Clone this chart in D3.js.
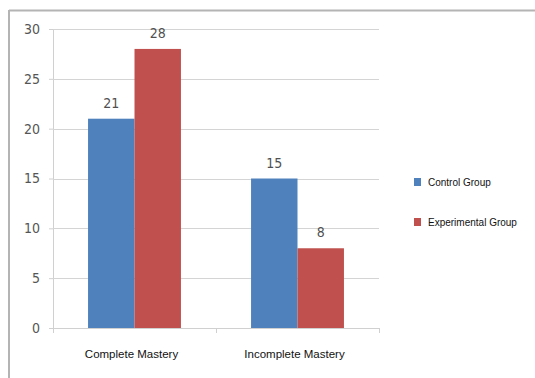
<!DOCTYPE html>
<html>
<head>
<meta charset="utf-8">
<script src="https://cdn.jsdelivr.net/npm/d3@7"></script>
<style>
    body{margin:0;background:#fff;}
    svg{display:block;}
</style>
</head>
<body>
<div id="chart"></div>
<script>
const categories = ["Complete Mastery", "Incomplete Mastery"];
const seriesNames = ["Control Group", "Experimental Group"];
const controlValues = [21, 15];
const experimentalValues = [28, 8];
const yTicks = [0, 5, 10, 15, 20, 25, 30];

const colors = ["#4F81BD", "#C0504D"];

const width = 535;
const height = 378;

const margin = {
    top:29,
    left:53,
    right:156,
    bottom:50
};

const svg = d3.select("#chart")
    .append("svg")
    .attr("width",width)
    .attr("height",height);

// outer frame (only top and left are visible)
svg.append("line")
    .attr("x1",9).attr("x2",width)
    .attr("y1",10.5).attr("y2",10.5)
    .attr("stroke","#b4b4b4").attr("stroke-width",2);
svg.append("line")
    .attr("x1",9).attr("x2",9)
    .attr("y1",10).attr("y2",height)
    .attr("stroke","#b4b4b4").attr("stroke-width",2);

const x0 = d3.scaleBand()
    .domain(categories)
    .range([margin.left, width - margin.right])
    .paddingInner(0.43)
    .paddingOuter(0.215);

const x1 = d3.scaleBand()
    .domain(seriesNames)
    .range([0, x0.bandwidth()]);

const y = d3.scaleLinear()
    .domain([0,30])
    .range([height - margin.bottom, margin.top]);

// gridlines + y axis
const yAxis = svg.append("g")
    .attr("transform",`translate(${margin.left},0)`)
    .call(d3.axisLeft(y)
        .tickValues(yTicks)
        .tickSize(4)
        .tickPadding(9));

yAxis.select(".domain")
    .attr("stroke","#d0d0d0")
    .attr("d",`M0.5,${y(0)}V${y(30)}`);

yAxis.selectAll(".tick line")
    .attr("stroke","#d0d0d0");

yAxis.selectAll(".tick text")
    .attr("fill","#555")
    .style("font-family","'DejaVu Sans Condensed', sans-serif")
    .style("font-size","14px");

svg.append("g")
    .selectAll("line")
    .data(yTicks.filter(d => d > 0))
    .join("line")
    .attr("x1",margin.left)
    .attr("x2",width - margin.right)
    .attr("y1",d => Math.round(y(d)) + 0.5)
    .attr("y2",d => Math.round(y(d)) + 0.5)
    .attr("stroke","#d4d4d4");

const chartData = categories.map((c,i) => ({
    category:c,
    values:[
        {name:seriesNames[0], value:controlValues[i]},
        {name:seriesNames[1], value:experimentalValues[i]}
    ]
}));

const groups = svg.append("g")
    .selectAll("g")
    .data(chartData)
    .join("g")
    .attr("transform",d => `translate(${x0(d.category)},0)`);

groups.selectAll("rect")
    .data(d => d.values)
    .join("rect")
    .attr("x",d => x1(d.name))
    .attr("width",x1.bandwidth())
    .attr("y",d => y(d.value))
    .attr("height",d => y(0) - y(d.value))
    .attr("fill",(d,i) => colors[i]);

groups.selectAll("text")
    .data(d => d.values)
    .join("text")
    .attr("x",d => x1(d.name) + x1.bandwidth()/2)
    .attr("y",d => y(d.value) - 11)
    .attr("text-anchor","middle")
    .attr("fill","#505050")
    .style("font-family","'DejaVu Sans Condensed', sans-serif")
    .style("font-size","14px")
    .text(d => d.value);

// x axis
const baseY = y(0);
svg.append("line")
    .attr("x1",margin.left)
    .attr("x2",width - margin.right)
    .attr("y1",baseY + 0.5)
    .attr("y2",baseY + 0.5)
    .attr("stroke","#d0d0d0");

const xTickPos = [margin.left, x0.step() + margin.left, width - margin.right];
svg.append("g")
    .selectAll("line")
    .data(xTickPos)
    .join("line")
    .attr("x1",d => d + 0.5)
    .attr("x2",d => d + 0.5)
    .attr("y1",baseY)
    .attr("y2",baseY + 5)
    .attr("stroke","#d0d0d0");

svg.append("g")
    .selectAll("text")
    .data(categories)
    .join("text")
    .attr("x",d => x0(d) + x0.bandwidth()/2 - 3)
    .attr("y",baseY + 30)
    .attr("text-anchor","middle")
    .attr("fill","#111")
    .style("font-family","Arial, 'Liberation Sans', sans-serif")
    .style("font-size","11.5px")
    .text(d => d);

// legend
const legend = svg.append("g")
    .selectAll("g")
    .data(seriesNames)
    .join("g")
    .attr("transform",(d,i) => `translate(414,${178 + i*40})`);

legend.append("rect")
    .attr("width",7)
    .attr("height",8)
    .attr("fill",(d,i) => colors[i]);

legend.append("text")
    .attr("x",14)
    .attr("y",4)
    .attr("dy","0.35em")
    .attr("fill","#111")
    .style("font-family","Arial, 'Liberation Sans', sans-serif")
    .style("font-size","10px")
    .text(d => d);
</script>
</body>
</html>
